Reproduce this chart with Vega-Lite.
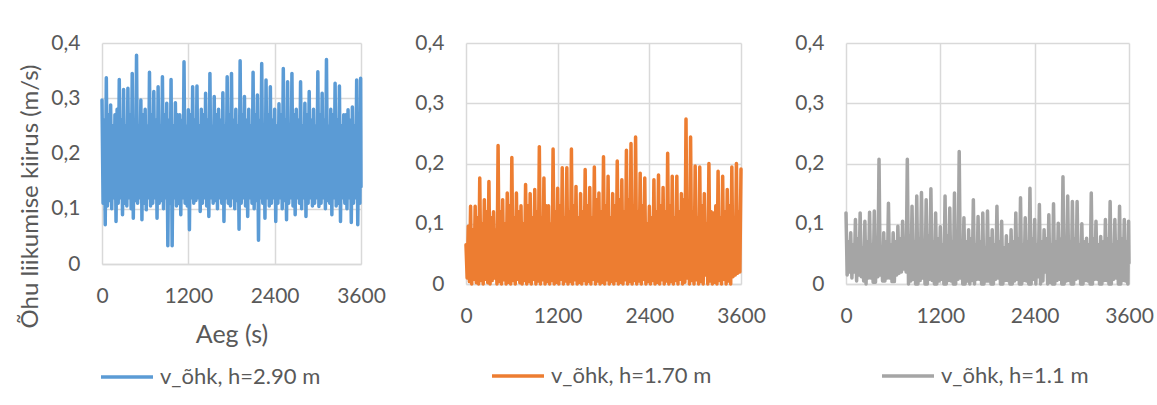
{
  "$schema": "https://vega.github.io/schema/vega-lite/v6.json",
  "background": "white",
  "padding": {"left": 18, "top": 32, "right": 2, "bottom": 0},
  "bounds": "flush",
  "spacing": 105,
  "resolve": {"scale": {"color": "independent"}, "legend": {"color": "independent"}},
  "config": {
    "font": "Lato",
    "view": {"stroke": null},
    "axis": {
      "grid": true,
      "gridColor": "#d9d9d9",
      "gridWidth": 1.5,
      "ticks": false,
      "tickSize": 0,
      "labelColor": "#595959",
      "labelFont": "Lato",
      "labelFontSize": 21,
      "titleColor": "#595959",
      "titleFont": "Lato",
      "titleFontWeight": "normal",
      "titleFontSize": 24
    },
    "axisX": {"domainColor": "#d9d9d9", "domainWidth": 1.5, "labelPadding": 21, "labelFlush": false},
    "axisY": {"domain": false, "labelPadding": 22},
    "legend": {
      "title": null,
      "orient": "none",
      "labelFont": "Lato",
      "labelFontSize": 22,
      "labelColor": "#595959",
      "labelLimit": 400,
      "symbolType": "stroke",
      "symbolStrokeWidth": 3.5,
      "symbolSize": 2704,
      "labelOffset": 5
    },
    "line": {"strokeWidth": 3.5, "strokeJoin": "round", "strokeCap": "round"}
  },
  "datasets": {
    "blue": [
      {"t":0,"v":0.297},{"t":15,"v":0.11},{"t":30,"v":0.26},{"t":45,"v":0.071},
      {"t":60,"v":0.337},{"t":75,"v":0.105},{"t":90,"v":0.27},{"t":105,"v":0.115},
      {"t":120,"v":0.288},{"t":135,"v":0.1},{"t":150,"v":0.25},{"t":165,"v":0.12},
      {"t":180,"v":0.27},{"t":195,"v":0.077},{"t":210,"v":0.28},{"t":225,"v":0.11},
      {"t":240,"v":0.334},{"t":255,"v":0.12},{"t":270,"v":0.26},{"t":285,"v":0.089},
      {"t":300,"v":0.316},{"t":315,"v":0.11},{"t":330,"v":0.25},{"t":345,"v":0.105},
      {"t":360,"v":0.318},{"t":375,"v":0.12},{"t":390,"v":0.27},{"t":405,"v":0.1},
      {"t":420,"v":0.345},{"t":435,"v":0.083},{"t":450,"v":0.26},{"t":465,"v":0.115},
      {"t":480,"v":0.378},{"t":495,"v":0.11},{"t":510,"v":0.25},{"t":525,"v":0.12},
      {"t":540,"v":0.297},{"t":555,"v":0.08},{"t":570,"v":0.27},{"t":585,"v":0.11},
      {"t":600,"v":0.28},{"t":615,"v":0.098},{"t":630,"v":0.25},{"t":645,"v":0.12},
      {"t":660,"v":0.347},{"t":675,"v":0.105},{"t":690,"v":0.27},{"t":705,"v":0.11},
      {"t":720,"v":0.312},{"t":735,"v":0.12},{"t":750,"v":0.26},{"t":765,"v":0.083},
      {"t":780,"v":0.321},{"t":795,"v":0.11},{"t":810,"v":0.25},{"t":825,"v":0.115},
      {"t":840,"v":0.339},{"t":855,"v":0.1},{"t":870,"v":0.27},{"t":885,"v":0.12},
      {"t":900,"v":0.291},{"t":915,"v":0.033},{"t":930,"v":0.26},{"t":945,"v":0.11},
      {"t":960,"v":0.334},{"t":975,"v":0.033},{"t":990,"v":0.25},{"t":1005,"v":0.12},
      {"t":1020,"v":0.292},{"t":1035,"v":0.105},{"t":1050,"v":0.27},{"t":1065,"v":0.11},
      {"t":1080,"v":0.27},{"t":1095,"v":0.089},{"t":1110,"v":0.26},{"t":1125,"v":0.12},
      {"t":1140,"v":0.366},{"t":1155,"v":0.11},{"t":1170,"v":0.25},{"t":1185,"v":0.105},
      {"t":1200,"v":0.279},{"t":1215,"v":0.062},{"t":1230,"v":0.27},{"t":1245,"v":0.12},
      {"t":1260,"v":0.321},{"t":1275,"v":0.11},{"t":1290,"v":0.26},{"t":1305,"v":0.115},
      {"t":1320,"v":0.322},{"t":1335,"v":0.12},{"t":1350,"v":0.25},{"t":1365,"v":0.095},
      {"t":1380,"v":0.28},{"t":1395,"v":0.11},{"t":1410,"v":0.27},{"t":1425,"v":0.12},
      {"t":1440,"v":0.309},{"t":1455,"v":0.105},{"t":1470,"v":0.26},{"t":1485,"v":0.086},
      {"t":1500,"v":0.345},{"t":1515,"v":0.12},{"t":1530,"v":0.25},{"t":1545,"v":0.11},
      {"t":1560,"v":0.303},{"t":1575,"v":0.115},{"t":1590,"v":0.27},{"t":1605,"v":0.1},
      {"t":1620,"v":0.28},{"t":1635,"v":0.12},{"t":1650,"v":0.26},{"t":1665,"v":0.11},
      {"t":1680,"v":0.31},{"t":1695,"v":0.077},{"t":1710,"v":0.25},{"t":1725,"v":0.12},
      {"t":1740,"v":0.339},{"t":1755,"v":0.11},{"t":1770,"v":0.27},{"t":1785,"v":0.105},
      {"t":1800,"v":0.345},{"t":1815,"v":0.12},{"t":1830,"v":0.26},{"t":1845,"v":0.1},
      {"t":1860,"v":0.28},{"t":1875,"v":0.115},{"t":1890,"v":0.25},{"t":1905,"v":0.063},
      {"t":1920,"v":0.368},{"t":1935,"v":0.11},{"t":1950,"v":0.27},{"t":1965,"v":0.12},
      {"t":1980,"v":0.303},{"t":1995,"v":0.105},{"t":2010,"v":0.26},{"t":2025,"v":0.086},
      {"t":2040,"v":0.28},{"t":2055,"v":0.12},{"t":2070,"v":0.25},{"t":2085,"v":0.11},
      {"t":2100,"v":0.347},{"t":2115,"v":0.1},{"t":2130,"v":0.27},{"t":2145,"v":0.115},
      {"t":2160,"v":0.306},{"t":2175,"v":0.043},{"t":2190,"v":0.26},{"t":2205,"v":0.12},
      {"t":2220,"v":0.363},{"t":2235,"v":0.11},{"t":2250,"v":0.25},{"t":2265,"v":0.083},
      {"t":2280,"v":0.333},{"t":2295,"v":0.12},{"t":2310,"v":0.27},{"t":2325,"v":0.105},
      {"t":2340,"v":0.321},{"t":2355,"v":0.11},{"t":2370,"v":0.26},{"t":2385,"v":0.12},
      {"t":2400,"v":0.28},{"t":2415,"v":0.077},{"t":2430,"v":0.25},{"t":2445,"v":0.11},
      {"t":2460,"v":0.29},{"t":2475,"v":0.12},{"t":2490,"v":0.27},{"t":2505,"v":0.1},
      {"t":2520,"v":0.354},{"t":2535,"v":0.115},{"t":2550,"v":0.26},{"t":2565,"v":0.08},
      {"t":2580,"v":0.33},{"t":2595,"v":0.11},{"t":2610,"v":0.25},{"t":2625,"v":0.12},
      {"t":2640,"v":0.345},{"t":2655,"v":0.105},{"t":2670,"v":0.27},{"t":2685,"v":0.089},
      {"t":2700,"v":0.28},{"t":2715,"v":0.12},{"t":2730,"v":0.26},{"t":2745,"v":0.11},
      {"t":2760,"v":0.33},{"t":2775,"v":0.1},{"t":2790,"v":0.25},{"t":2805,"v":0.12},
      {"t":2820,"v":0.291},{"t":2835,"v":0.086},{"t":2850,"v":0.27},{"t":2865,"v":0.11},
      {"t":2880,"v":0.312},{"t":2895,"v":0.12},{"t":2910,"v":0.26},{"t":2925,"v":0.105},
      {"t":2940,"v":0.28},{"t":2955,"v":0.11},{"t":2970,"v":0.25},{"t":2985,"v":0.12},
      {"t":3000,"v":0.348},{"t":3015,"v":0.104},{"t":3030,"v":0.27},{"t":3045,"v":0.11},
      {"t":3060,"v":0.309},{"t":3075,"v":0.12},{"t":3090,"v":0.26},{"t":3105,"v":0.1},
      {"t":3120,"v":0.37},{"t":3135,"v":0.115},{"t":3150,"v":0.25},{"t":3165,"v":0.11},
      {"t":3180,"v":0.28},{"t":3195,"v":0.089},{"t":3210,"v":0.27},{"t":3225,"v":0.12},
      {"t":3240,"v":0.327},{"t":3255,"v":0.105},{"t":3270,"v":0.26},{"t":3285,"v":0.11},
      {"t":3300,"v":0.322},{"t":3315,"v":0.077},{"t":3330,"v":0.25},{"t":3345,"v":0.12},
      {"t":3360,"v":0.27},{"t":3375,"v":0.11},{"t":3390,"v":0.27},{"t":3405,"v":0.1},
      {"t":3420,"v":0.279},{"t":3435,"v":0.12},{"t":3450,"v":0.26},{"t":3465,"v":0.075},
      {"t":3480,"v":0.284},{"t":3495,"v":0.11},{"t":3510,"v":0.25},{"t":3525,"v":0.12},
      {"t":3540,"v":0.333},{"t":3555,"v":0.071},{"t":3570,"v":0.27},{"t":3585,"v":0.11},
      {"t":3595,"v":0.336},{"t":3600,"v":0.14}
    ],
    "orange": [
      {"t":0,"v":0.065},{"t":15,"v":0.01},{"t":30,"v":0.096},{"t":45,"v":0.004},
      {"t":60,"v":0.129},{"t":75,"v":0.0},{"t":90,"v":0.09},{"t":105,"v":0.008},
      {"t":120,"v":0.129},{"t":135,"v":0.002},{"t":150,"v":0.11},{"t":165,"v":0.0},
      {"t":180,"v":0.176},{"t":195,"v":0.006},{"t":210,"v":0.1},{"t":225,"v":0.0},
      {"t":240,"v":0.14},{"t":255,"v":0.008},{"t":270,"v":0.12},{"t":285,"v":0.002},
      {"t":300,"v":0.17},{"t":315,"v":0.0},{"t":330,"v":0.11},{"t":345,"v":0.006},
      {"t":360,"v":0.12},{"t":375,"v":0.01},{"t":390,"v":0.09},{"t":405,"v":0.0},
      {"t":420,"v":0.23},{"t":435,"v":0.004},{"t":450,"v":0.12},{"t":465,"v":0.0},
      {"t":480,"v":0.14},{"t":495,"v":0.007},{"t":510,"v":0.1},{"t":525,"v":0.0},
      {"t":540,"v":0.151},{"t":555,"v":0.003},{"t":570,"v":0.13},{"t":585,"v":0.0},
      {"t":600,"v":0.21},{"t":615,"v":0.006},{"t":630,"v":0.11},{"t":645,"v":0.0},
      {"t":660,"v":0.151},{"t":675,"v":0.008},{"t":690,"v":0.12},{"t":705,"v":0.002},
      {"t":720,"v":0.13},{"t":735,"v":0.0},{"t":750,"v":0.1},{"t":765,"v":0.006},
      {"t":780,"v":0.165},{"t":795,"v":0.0},{"t":810,"v":0.13},{"t":825,"v":0.004},
      {"t":840,"v":0.15},{"t":855,"v":0.0},{"t":870,"v":0.11},{"t":885,"v":0.008},
      {"t":900,"v":0.157},{"t":915,"v":0.0},{"t":930,"v":0.12},{"t":945,"v":0.005},
      {"t":960,"v":0.228},{"t":975,"v":0.0},{"t":990,"v":0.11},{"t":1005,"v":0.007},
      {"t":1020,"v":0.176},{"t":1035,"v":0.0},{"t":1050,"v":0.13},{"t":1065,"v":0.004},
      {"t":1080,"v":0.13},{"t":1095,"v":0.0},{"t":1110,"v":0.1},{"t":1125,"v":0.006},
      {"t":1140,"v":0.224},{"t":1155,"v":0.0},{"t":1170,"v":0.12},{"t":1185,"v":0.003},
      {"t":1200,"v":0.159},{"t":1215,"v":0.0},{"t":1230,"v":0.13},{"t":1245,"v":0.008},
      {"t":1260,"v":0.193},{"t":1275,"v":0.0},{"t":1290,"v":0.11},{"t":1305,"v":0.005},
      {"t":1320,"v":0.193},{"t":1335,"v":0.0},{"t":1350,"v":0.12},{"t":1365,"v":0.004},
      {"t":1380,"v":0.224},{"t":1395,"v":0.0},{"t":1410,"v":0.13},{"t":1425,"v":0.007},
      {"t":1440,"v":0.162},{"t":1455,"v":0.0},{"t":1470,"v":0.11},{"t":1485,"v":0.003},
      {"t":1500,"v":0.15},{"t":1515,"v":0.0},{"t":1530,"v":0.12},{"t":1545,"v":0.006},
      {"t":1560,"v":0.19},{"t":1575,"v":0.0},{"t":1590,"v":0.13},{"t":1605,"v":0.004},
      {"t":1620,"v":0.16},{"t":1635,"v":0.0},{"t":1650,"v":0.11},{"t":1665,"v":0.008},
      {"t":1680,"v":0.194},{"t":1695,"v":0.0},{"t":1710,"v":0.14},{"t":1725,"v":0.005},
      {"t":1740,"v":0.151},{"t":1755,"v":0.0},{"t":1770,"v":0.12},{"t":1785,"v":0.003},
      {"t":1800,"v":0.211},{"t":1815,"v":0.0},{"t":1830,"v":0.13},{"t":1845,"v":0.007},
      {"t":1860,"v":0.179},{"t":1875,"v":0.0},{"t":1890,"v":0.11},{"t":1905,"v":0.004},
      {"t":1920,"v":0.15},{"t":1935,"v":0.0},{"t":1950,"v":0.13},{"t":1965,"v":0.006},
      {"t":1980,"v":0.204},{"t":1995,"v":0.0},{"t":2010,"v":0.14},{"t":2025,"v":0.003},
      {"t":2040,"v":0.173},{"t":2055,"v":0.0},{"t":2070,"v":0.12},{"t":2085,"v":0.007},
      {"t":2100,"v":0.222},{"t":2115,"v":0.0},{"t":2130,"v":0.14},{"t":2145,"v":0.004},
      {"t":2160,"v":0.233},{"t":2175,"v":0.0},{"t":2190,"v":0.13},{"t":2205,"v":0.006},
      {"t":2220,"v":0.244},{"t":2235,"v":0.0},{"t":2250,"v":0.12},{"t":2265,"v":0.005},
      {"t":2280,"v":0.184},{"t":2295,"v":0.0},{"t":2310,"v":0.13},{"t":2325,"v":0.008},
      {"t":2340,"v":0.176},{"t":2355,"v":0.0},{"t":2370,"v":0.1},{"t":2385,"v":0.004},
      {"t":2400,"v":0.129},{"t":2415,"v":0.0},{"t":2430,"v":0.11},{"t":2445,"v":0.006},
      {"t":2460,"v":0.173},{"t":2475,"v":0.0},{"t":2490,"v":0.12},{"t":2505,"v":0.003},
      {"t":2520,"v":0.181},{"t":2535,"v":0.0},{"t":2550,"v":0.13},{"t":2565,"v":0.007},
      {"t":2580,"v":0.16},{"t":2595,"v":0.0},{"t":2610,"v":0.12},{"t":2625,"v":0.005},
      {"t":2640,"v":0.217},{"t":2655,"v":0.0},{"t":2670,"v":0.13},{"t":2685,"v":0.004},
      {"t":2700,"v":0.179},{"t":2715,"v":0.0},{"t":2730,"v":0.11},{"t":2745,"v":0.006},
      {"t":2760,"v":0.179},{"t":2775,"v":0.0},{"t":2790,"v":0.12},{"t":2805,"v":0.008},
      {"t":2820,"v":0.15},{"t":2835,"v":0.0},{"t":2850,"v":0.14},{"t":2865,"v":0.003},
      {"t":2880,"v":0.274},{"t":2895,"v":0.01},{"t":2910,"v":0.13},{"t":2925,"v":0.0},
      {"t":2940,"v":0.244},{"t":2955,"v":0.006},{"t":2970,"v":0.12},{"t":2985,"v":0.0},
      {"t":3000,"v":0.196},{"t":3015,"v":0.007},{"t":3030,"v":0.11},{"t":3045,"v":0.0},
      {"t":3060,"v":0.194},{"t":3075,"v":0.004},{"t":3090,"v":0.13},{"t":3105,"v":0.0},
      {"t":3120,"v":0.15},{"t":3135,"v":0.015},{"t":3150,"v":0.1},{"t":3165,"v":0.0},
      {"t":3180,"v":0.2},{"t":3195,"v":0.005},{"t":3210,"v":0.12},{"t":3225,"v":0.0},
      {"t":3240,"v":0.118},{"t":3255,"v":0.003},{"t":3270,"v":0.13},{"t":3285,"v":0.0},
      {"t":3300,"v":0.187},{"t":3315,"v":0.006},{"t":3330,"v":0.11},{"t":3345,"v":0.0},
      {"t":3360,"v":0.179},{"t":3375,"v":0.008},{"t":3390,"v":0.12},{"t":3405,"v":0.0},
      {"t":3420,"v":0.157},{"t":3435,"v":0.005},{"t":3450,"v":0.13},{"t":3465,"v":0.0},
      {"t":3480,"v":0.194},{"t":3495,"v":0.012},{"t":3510,"v":0.11},{"t":3525,"v":0.015},
      {"t":3540,"v":0.2},{"t":3555,"v":0.018},{"t":3570,"v":0.12},{"t":3585,"v":0.02},
      {"t":3600,"v":0.191}
    ],
    "gray": [
      {"t":0,"v":0.118},{"t":15,"v":0.015},{"t":30,"v":0.07},{"t":45,"v":0.02},
      {"t":60,"v":0.085},{"t":75,"v":0.01},{"t":90,"v":0.065},{"t":105,"v":0.02},
      {"t":120,"v":0.107},{"t":135,"v":0.005},{"t":150,"v":0.075},{"t":165,"v":0.015},
      {"t":180,"v":0.118},{"t":195,"v":0.012},{"t":210,"v":0.06},{"t":225,"v":0.005},
      {"t":240,"v":0.104},{"t":255,"v":0.0},{"t":270,"v":0.07},{"t":285,"v":0.01},
      {"t":300,"v":0.119},{"t":315,"v":0.01},{"t":330,"v":0.065},{"t":345,"v":0.003},
      {"t":360,"v":0.121},{"t":375,"v":0.003},{"t":390,"v":0.075},{"t":405,"v":0.012},
      {"t":420,"v":0.207},{"t":435,"v":0.015},{"t":450,"v":0.06},{"t":465,"v":0.005},
      {"t":480,"v":0.085},{"t":495,"v":0.005},{"t":510,"v":0.07},{"t":525,"v":0.01},
      {"t":540,"v":0.134},{"t":555,"v":0.01},{"t":570,"v":0.065},{"t":585,"v":0.004},
      {"t":600,"v":0.085},{"t":615,"v":0.004},{"t":630,"v":0.07},{"t":645,"v":0.015},
      {"t":660,"v":0.096},{"t":675,"v":0.018},{"t":690,"v":0.075},{"t":705,"v":0.02},
      {"t":720,"v":0.104},{"t":735,"v":0.025},{"t":750,"v":0.07},{"t":765,"v":0.02},
      {"t":780,"v":0.207},{"t":795,"v":0.0},{"t":810,"v":0.08},{"t":825,"v":0.005},
      {"t":840,"v":0.129},{"t":855,"v":0.008},{"t":870,"v":0.07},{"t":885,"v":0.0},
      {"t":900,"v":0.146},{"t":915,"v":0.0},{"t":930,"v":0.075},{"t":945,"v":0.006},
      {"t":960,"v":0.152},{"t":975,"v":0.01},{"t":990,"v":0.065},{"t":1005,"v":0.0},
      {"t":1020,"v":0.14},{"t":1035,"v":0.0},{"t":1050,"v":0.08},{"t":1065,"v":0.008},
      {"t":1080,"v":0.158},{"t":1095,"v":0.006},{"t":1110,"v":0.07},{"t":1125,"v":0.0},
      {"t":1140,"v":0.118},{"t":1155,"v":0.0},{"t":1170,"v":0.075},{"t":1185,"v":0.005},
      {"t":1200,"v":0.095},{"t":1215,"v":0.008},{"t":1230,"v":0.065},{"t":1245,"v":0.0},
      {"t":1260,"v":0.146},{"t":1275,"v":0.0},{"t":1290,"v":0.08},{"t":1305,"v":0.006},
      {"t":1320,"v":0.126},{"t":1335,"v":0.005},{"t":1350,"v":0.07},{"t":1365,"v":0.0},
      {"t":1380,"v":0.151},{"t":1395,"v":0.0},{"t":1410,"v":0.075},{"t":1425,"v":0.008},
      {"t":1440,"v":0.22},{"t":1455,"v":0.01},{"t":1470,"v":0.065},{"t":1485,"v":0.0},
      {"t":1500,"v":0.11},{"t":1515,"v":0.0},{"t":1530,"v":0.07},{"t":1545,"v":0.005},
      {"t":1560,"v":0.09},{"t":1575,"v":0.0},{"t":1590,"v":0.075},{"t":1605,"v":0.006},
      {"t":1620,"v":0.14},{"t":1635,"v":0.0},{"t":1650,"v":0.065},{"t":1665,"v":0.008},
      {"t":1680,"v":0.112},{"t":1695,"v":0.008},{"t":1710,"v":0.07},{"t":1725,"v":0.0},
      {"t":1740,"v":0.118},{"t":1755,"v":0.0},{"t":1770,"v":0.06},{"t":1785,"v":0.005},
      {"t":1800,"v":0.121},{"t":1815,"v":0.005},{"t":1830,"v":0.075},{"t":1845,"v":0.0},
      {"t":1860,"v":0.09},{"t":1875,"v":0.0},{"t":1890,"v":0.065},{"t":1905,"v":0.008},
      {"t":1920,"v":0.129},{"t":1935,"v":0.01},{"t":1950,"v":0.07},{"t":1965,"v":0.0},
      {"t":1980,"v":0.104},{"t":1995,"v":0.0},{"t":2010,"v":0.06},{"t":2025,"v":0.006},
      {"t":2040,"v":0.08},{"t":2055,"v":0.006},{"t":2070,"v":0.065},{"t":2085,"v":0.0},
      {"t":2100,"v":0.09},{"t":2115,"v":0.0},{"t":2130,"v":0.07},{"t":2145,"v":0.005},
      {"t":2160,"v":0.118},{"t":2175,"v":0.008},{"t":2190,"v":0.075},{"t":2205,"v":0.0},
      {"t":2220,"v":0.143},{"t":2235,"v":0.0},{"t":2250,"v":0.065},{"t":2265,"v":0.006},
      {"t":2280,"v":0.11},{"t":2295,"v":0.005},{"t":2310,"v":0.07},{"t":2325,"v":0.0},
      {"t":2340,"v":0.159},{"t":2355,"v":0.0},{"t":2370,"v":0.075},{"t":2385,"v":0.008},
      {"t":2400,"v":0.107},{"t":2415,"v":0.0},{"t":2430,"v":0.065},{"t":2445,"v":0.012},
      {"t":2460,"v":0.132},{"t":2475,"v":0.0},{"t":2490,"v":0.07},{"t":2505,"v":0.005},
      {"t":2520,"v":0.09},{"t":2535,"v":0.02},{"t":2550,"v":0.075},{"t":2565,"v":0.0},
      {"t":2580,"v":0.115},{"t":2595,"v":0.003},{"t":2610,"v":0.065},{"t":2625,"v":0.0},
      {"t":2640,"v":0.133},{"t":2655,"v":0.0},{"t":2670,"v":0.07},{"t":2685,"v":0.006},
      {"t":2700,"v":0.101},{"t":2715,"v":0.008},{"t":2730,"v":0.075},{"t":2745,"v":0.0},
      {"t":2760,"v":0.178},{"t":2775,"v":0.0},{"t":2790,"v":0.065},{"t":2805,"v":0.005},
      {"t":2820,"v":0.146},{"t":2835,"v":0.006},{"t":2850,"v":0.07},{"t":2865,"v":0.0},
      {"t":2880,"v":0.137},{"t":2895,"v":0.0},{"t":2910,"v":0.075},{"t":2925,"v":0.008},
      {"t":2940,"v":0.137},{"t":2955,"v":0.01},{"t":2970,"v":0.065},{"t":2985,"v":0.0},
      {"t":3000,"v":0.1},{"t":3015,"v":0.0},{"t":3030,"v":0.07},{"t":3045,"v":0.006},
      {"t":3060,"v":0.076},{"t":3075,"v":0.005},{"t":3090,"v":0.065},{"t":3105,"v":0.0},
      {"t":3120,"v":0.151},{"t":3135,"v":0.0},{"t":3150,"v":0.075},{"t":3165,"v":0.008},
      {"t":3180,"v":0.104},{"t":3195,"v":0.008},{"t":3210,"v":0.065},{"t":3225,"v":0.0},
      {"t":3240,"v":0.079},{"t":3255,"v":0.0},{"t":3270,"v":0.07},{"t":3285,"v":0.006},
      {"t":3300,"v":0.107},{"t":3315,"v":0.006},{"t":3330,"v":0.075},{"t":3345,"v":0.0},
      {"t":3360,"v":0.137},{"t":3375,"v":0.0},{"t":3390,"v":0.065},{"t":3405,"v":0.008},
      {"t":3420,"v":0.107},{"t":3435,"v":0.01},{"t":3450,"v":0.07},{"t":3465,"v":0.0},
      {"t":3480,"v":0.129},{"t":3495,"v":0.0},{"t":3510,"v":0.075},{"t":3525,"v":0.006},
      {"t":3540,"v":0.107},{"t":3555,"v":0.005},{"t":3570,"v":0.07},{"t":3585,"v":0.0},
      {"t":3595,"v":0.104},{"t":3600,"v":0.035}
    ]
  },
  "hconcat": [
    {
      "width": 259,
      "height": 221,
      "data": {"name": "blue"},
      "mark": {"type": "line"},
      "encoding": {
        "x": {"field": "t", "type": "quantitative", "scale": {"domain": [0, 3600], "nice": false},
              "axis": {"values": [0, 1200, 2400, 3600], "format": "d", "title": "Aeg (s)", "titlePadding": 16, "titleFontSize": 25}},
        "y": {"field": "v", "type": "quantitative", "scale": {"domain": [0, 0.4], "nice": false},
              "axis": {"values": [0, 0.1, 0.2, 0.3, 0.4], "labelExpr": "datum.value == 0 ? '0' : replace(format(datum.value, '.1f'), '.', ',')",
                       "title": "Õhu liikumise kiirus (m/s)", "titlePadding": 8, "titleY": 153}},
        "color": {"datum": "v_õhk, h=2.90 m", "type": "nominal", "scale": {"range": ["#5b9bd5"]},
                  "legend": {"legendX": -3, "legendY": 306}}
      }
    },
    {
      "width": 275,
      "height": 241,
      "data": {"name": "orange"},
      "mark": {"type": "line"},
      "encoding": {
        "x": {"field": "t", "type": "quantitative", "scale": {"domain": [0, 3600], "nice": false},
              "axis": {"values": [0, 1200, 2400, 3600], "format": "d", "title": null}},
        "y": {"field": "v", "type": "quantitative", "scale": {"domain": [0, 0.4], "nice": false},
              "axis": {"values": [0, 0.1, 0.2, 0.3, 0.4], "labelExpr": "datum.value == 0 ? '0' : replace(format(datum.value, '.1f'), '.', ',')", "title": null}},
        "color": {"datum": "v_õhk, h=1.70 m", "type": "nominal", "scale": {"range": ["#ed7d31"]},
                  "legend": {"legendX": 24, "legendY": 305}}
      }
    },
    {
      "width": 283,
      "height": 241,
      "data": {"name": "gray"},
      "mark": {"type": "line"},
      "encoding": {
        "x": {"field": "t", "type": "quantitative", "scale": {"domain": [0, 3600], "nice": false},
              "axis": {"values": [0, 1200, 2400, 3600], "format": "d", "title": null}},
        "y": {"field": "v", "type": "quantitative", "scale": {"domain": [0, 0.4], "nice": false},
              "axis": {"values": [0, 0.1, 0.2, 0.3, 0.4], "labelExpr": "datum.value == 0 ? '0' : replace(format(datum.value, '.1f'), '.', ',')", "title": null}},
        "color": {"datum": "v_õhk, h=1.1 m", "type": "nominal", "scale": {"range": ["#a5a5a5"]},
                  "legend": {"legendX": 34, "legendY": 305}}
      }
    }
  ]
}
